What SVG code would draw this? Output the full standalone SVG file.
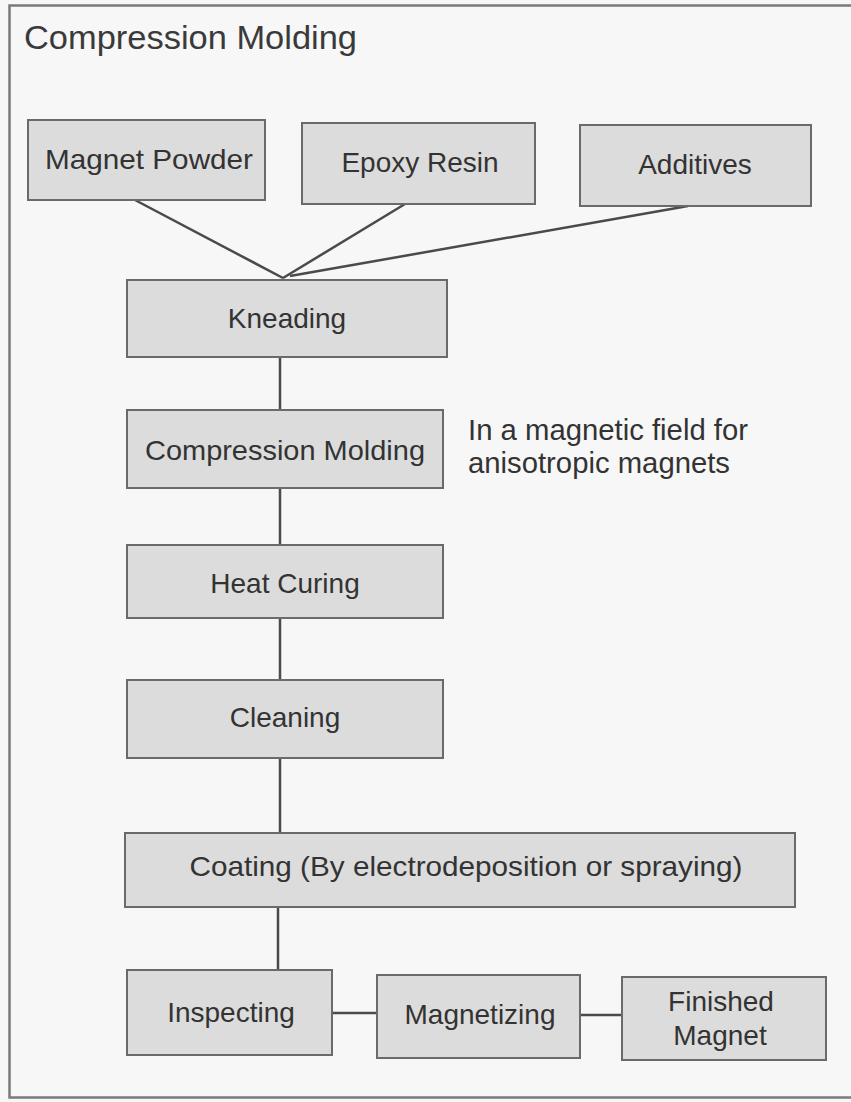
<svg xmlns="http://www.w3.org/2000/svg" width="851" height="1102" viewBox="0 0 851 1102">
<style>
.box{fill:#dcdcdc;stroke:#6a6a6a;stroke-width:2}
.t{font-family:"Liberation Sans",Arial,sans-serif;font-size:28px;fill:#333;text-anchor:middle}
.n{font-family:"Liberation Sans",Arial,sans-serif;font-size:29px;fill:#333}
.c{stroke:#4a4a4a;stroke-width:2.5;fill:none}
</style>
<rect x="0" y="0" width="851" height="1102" fill="#f7f7f7"/>
<rect id="frame" x="9.5" y="5.5" width="850" height="1092" fill="none" stroke="#7a7a7a" stroke-width="2.5"/>
<text x="24" y="49" font-family="'Liberation Sans',Arial,sans-serif" font-size="34" fill="#3a3a3a" textLength="333" lengthAdjust="spacingAndGlyphs">Compression Molding</text>
<g id="connectors">
<line class="c" x1="135" y1="200" x2="283" y2="278"/>
<line class="c" x1="405" y1="204" x2="283" y2="278"/>
<line class="c" x1="688" y1="206" x2="290" y2="276"/>
<line class="c" x1="280" y1="357" x2="280" y2="410"/>
<line class="c" x1="280" y1="488" x2="280" y2="545"/>
<line class="c" x1="280" y1="618" x2="280" y2="680"/>
<line class="c" x1="280" y1="758" x2="280" y2="833"/>
<line class="c" x1="278" y1="907" x2="278" y2="970"/>
<line class="c" x1="332" y1="1013" x2="377" y2="1013"/>
<line class="c" x1="580" y1="1015" x2="622" y2="1015"/>
</g>
<g id="magnet-powder"><rect class="box" x="28" y="120" width="237" height="80"/><text class="t" x="149" y="169" textLength="208" lengthAdjust="spacingAndGlyphs">Magnet Powder</text></g>
<g id="epoxy-resin"><rect class="box" x="302" y="123" width="233" height="81"/><text class="t" x="420" y="172">Epoxy Resin</text></g>
<g id="additives"><rect class="box" x="580" y="125" width="231" height="81"/><text class="t" x="695" y="174">Additives</text></g>
<g id="kneading"><rect class="box" x="127" y="280" width="320" height="77"/><text class="t" x="287" y="328">Kneading</text></g>
<g id="compression-molding"><rect class="box" x="127" y="410" width="316" height="78"/><text class="t" x="285" y="460" textLength="280" lengthAdjust="spacingAndGlyphs">Compression Molding</text></g>
<g id="note"><text class="n" x="468" y="440" textLength="280" lengthAdjust="spacingAndGlyphs">In a magnetic field for</text><text class="n" x="468" y="473" textLength="262" lengthAdjust="spacingAndGlyphs">anisotropic magnets</text></g>
<g id="heat-curing"><rect class="box" x="127" y="545" width="316" height="73"/><text class="t" x="285" y="593">Heat Curing</text></g>
<g id="cleaning"><rect class="box" x="127" y="680" width="316" height="78"/><text class="t" x="285" y="727">Cleaning</text></g>
<g id="coating"><rect class="box" x="125" y="833" width="670" height="74"/><text class="t" x="466" y="876" textLength="553" lengthAdjust="spacingAndGlyphs">Coating (By electrodeposition or spraying)</text></g>
<g id="inspecting"><rect class="box" x="127" y="970" width="205" height="85"/><text class="t" x="231" y="1022">Inspecting</text></g>
<g id="magnetizing"><rect class="box" x="377" y="975" width="203" height="83"/><text class="t" x="480" y="1024">Magnetizing</text></g>
<g id="finished-magnet"><rect class="box" x="622" y="977" width="204" height="83"/><text class="t" x="721" y="1011">Finished</text><text class="t" x="720" y="1045">Magnet</text></g>
</svg>
